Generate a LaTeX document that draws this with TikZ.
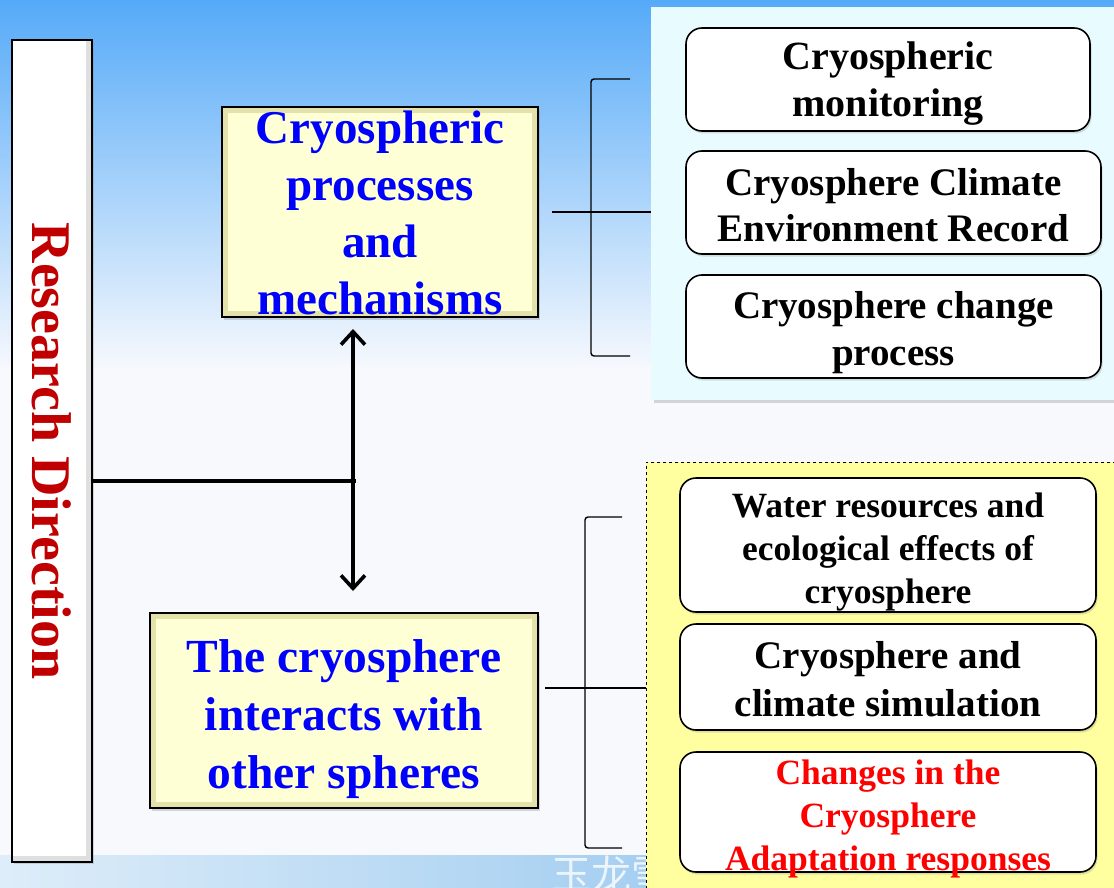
\documentclass[tikz,border=0pt]{standalone}
\usepackage{fontspec}
\setmainfont{Liberation Serif}
\newfontfamily\cjk{Noto Sans CJK SC}
\usetikzlibrary{shapes,shadows,arrows.meta,calc}

\definecolor{skytop}{RGB}{85,170,248}
\definecolor{skylow}{RGB}{247,249,253}
\definecolor{notepale}{RGB}{255,255,214}
\definecolor{bevel}{RGB}{226,226,170}
\definecolor{cyanpanel}{RGB}{232,251,255}
\definecolor{yellowpanel}{RGB}{255,255,160}
\definecolor{darkred}{RGB}{192,0,0}
\definecolor{stripleft}{RGB}{222,237,249}
\definecolor{stripright}{RGB}{160,204,240}
\definecolor{markwhite}{RGB}{236,244,252}

% centred lines, first baseline raised above the node centre
\newcommand{\lines}[2]{\raisebox{#1}[0pt][0pt]{\begin{tabular}[t]{@{}c@{}}#2\end{tabular}}}

\begin{document}
\begin{tikzpicture}[x=1pt,y=-1pt]

\tikzstyle{dirbox}=[rectangle,draw=black,line width=2.5pt,fill=white,inner sep=0pt,text=darkred,font=\fontsize{56}{60}\selectfont\bfseries,drop shadow={opacity=0.3,shadow xshift=2pt,shadow yshift=-2pt},path picture={\draw[gray!25,line width=12pt] (path picture bounding box.north east) -- (path picture bounding box.south east) -- (path picture bounding box.south west);}]
\tikzstyle{topicbox}=[rectangle,draw=black,line width=2pt,fill=notepale,inner sep=0pt,text=blue,drop shadow={opacity=0.3,shadow xshift=2pt,shadow yshift=-3pt},path picture={\draw[bevel,line width=12pt] (path picture bounding box.south west) rectangle (path picture bounding box.north east);}]
\tikzstyle{panelbox}=[rectangle,inner sep=0pt]
\tikzstyle{itembox}=[rectangle,rounded corners=16pt,draw=black,line width=1.6pt,fill=white,inner sep=0pt,drop shadow={opacity=0.25,shadow xshift=1.5pt,shadow yshift=-2.5pt}]
\tikzstyle{thinline}=[line width=1.4pt,black]
\tikzstyle{thickline}=[line width=3.6pt,black]
\tikzstyle{bothway}=[thickline,{Straight Barb[length=13pt,width=24pt]}-{Straight Barb[length=13pt,width=24pt]}]

\useasboundingbox (0,0) rectangle (1114,888);

%background
\shade[top color=skytop,bottom color=skylow] (0,0) rectangle (1114,370);
\fill[skylow] (0,370) rectangle (1114,888);
\fill[left color=stripleft,right color=stripright] (0,855) rectangle (700,888);
\node[anchor=west,inner sep=0pt,text=markwhite,font=\cjk\fontsize{40}{40}\selectfont] (mark) at (551,874) {玉龙雪};

%panels
\node[panelbox,fill=cyanpanel,minimum width=480pt,minimum height=393pt,drop shadow={opacity=0.3,shadow xshift=3pt,shadow yshift=-3pt}] (monpanel) at (891,203.5) {};
\node[panelbox,fill=yellowpanel,draw=black,dashed,line width=0.9pt,minimum width=484pt,minimum height=438pt] (sppanel) at (888,681) {};

%research direction
\node[dirbox,rotate=-90,minimum width=822pt,minimum height=80pt] (rd) at (52,451) {Research Direction};

%topics
\node[topicbox,minimum width=316pt,minimum height=210pt,font=\fontsize{47}{57}\selectfont\bfseries] (pm) at (380,212) {\lines{69pt}{Cryospheric\\processes\\and\\mechanisms}};
\node[topicbox,minimum width=388pt,minimum height=195pt,font=\fontsize{47.5}{58}\selectfont\bfseries] (po) at (344,710.5) {\lines{38pt}{The cryosphere\\interacts with\\other spheres}};

%items of the first topic
\node[itembox,minimum width=404pt,minimum height=103pt,font=\fontsize{40}{47}\selectfont\bfseries] (m1) at (888,79.5) {\lines{9.5pt}{Cryospheric\\monitoring}};
\node[itembox,minimum width=415pt,minimum height=103pt,font=\fontsize{39}{47}\selectfont\bfseries] (m2) at (893.5,202.5) {\lines{7.5pt}{Cryosphere Climate\\Environment Record}};
\node[itembox,minimum width=415pt,minimum height=103pt,font=\fontsize{39}{47}\selectfont\bfseries] (m3) at (893.5,326.5) {\lines{8.5pt}{Cryosphere change\\process}};

%items of the second topic
\node[itembox,minimum width=416pt,minimum height=134pt,font=\fontsize{35.5}{43}\selectfont\bfseries] (s1) at (888,545) {\lines{28pt}{Water resources and\\ecological effects of\\cryosphere}};
\node[itembox,minimum width=416pt,minimum height=106pt,font=\fontsize{39}{48}\selectfont\bfseries] (s2) at (888,677) {\lines{9pt}{Cryosphere and\\climate simulation}};
\node[itembox,minimum width=416pt,minimum height=120pt,text=red,font=\fontsize{35.5}{43}\selectfont\bfseries] (s3) at (888,812) {\lines{28pt}{Changes in the\\Cryosphere\\Adaptation responses}};

%connections
\coordinate (hub) at (353,481);
\draw[thickline] (rd.north |- hub) -- ([xshift=3pt]hub);
\draw[bothway,shorten <=11pt,shorten >=21pt] (pm.south -| hub) -- (po.north -| hub);

\coordinate (topjoin) at (591,212);
\draw[thinline] ([xshift=13pt]pm.east) -- (pm.east -| monpanel.west);
\draw[thinline,rounded corners=3pt] (630,79) -- (topjoin |- 0,79) -- (topjoin |- 0,356) -- (630,356);

\coordinate (lowjoin) at (585,688);
\draw[thinline] ($(po.east |- lowjoin)+(6,0)$) -- (lowjoin -| sppanel.west);
\draw[thinline,rounded corners=3pt] (622,517) -- (lowjoin |- 0,517) -- (lowjoin |- 0,848) -- (622,848);

\end{tikzpicture}
\end{document}
